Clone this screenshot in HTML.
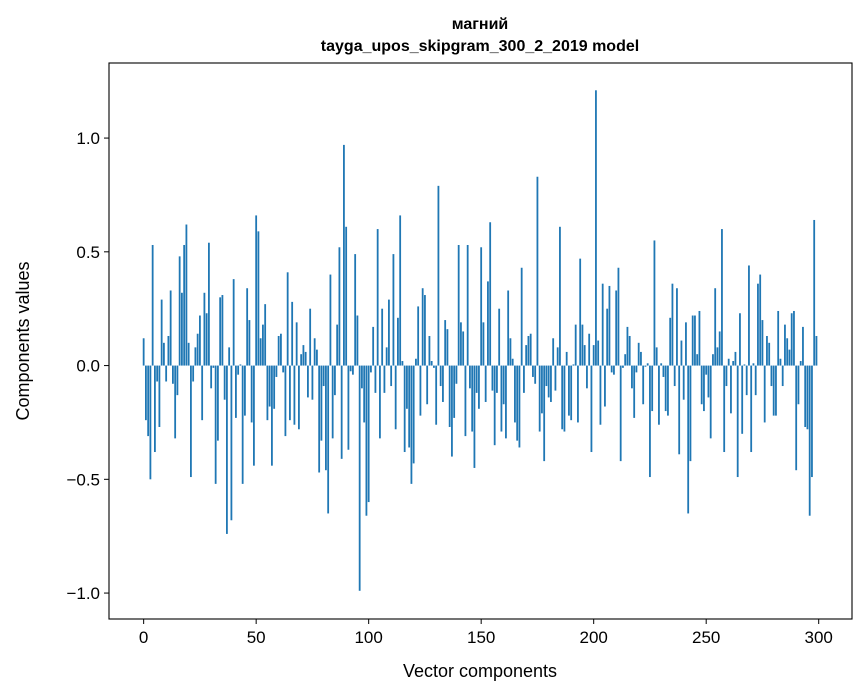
<!DOCTYPE html>
<html><head><meta charset="utf-8"><style>
html,body{margin:0;padding:0;background:#fff;}
svg{display:block;font-family:"Liberation Sans","DejaVu Sans",sans-serif;}
</style></head><body>
<svg id="chart" width="867" height="696" viewBox="0 0 867 696" xmlns="http://www.w3.org/2000/svg">
<rect width="867" height="696" fill="#fff"/>
<text x="480" y="29" text-anchor="middle" font-size="16" font-weight="bold">магний</text>
<text x="480" y="51" text-anchor="middle" font-size="16" font-weight="bold">tayga_upos_skipgram_300_2_2019 model</text>
<g id="bars"></g>
<g id="axes"></g>
<text x="480" y="677" text-anchor="middle" font-size="18">Vector components</text>
<text transform="translate(29,341) rotate(-90)" text-anchor="middle" font-size="18">Components values</text>
</svg>
<script>
const values = [
0.12,-0.24,-0.31,-0.50,0.53,-0.38,-0.07,-0.27,0.29,0.10,
-0.07,0.13,0.33,-0.08,-0.32,-0.13,0.48,0.32,0.53,0.62,
0.10,-0.49,-0.07,0.08,0.14,0.22,-0.24,0.32,0.23,0.54,
-0.10,-0.01,-0.52,-0.33,0.30,0.31,-0.15,-0.74,0.08,-0.68,
0.38,-0.23,-0.04,0.005,-0.52,-0.22,0.34,0.20,-0.25,-0.44,
0.66,0.59,0.12,0.18,0.27,-0.24,-0.18,-0.44,-0.19,-0.05,
0.13,0.14,-0.03,-0.31,0.41,-0.24,0.28,-0.26,0.19,-0.28,
0.05,0.09,0.06,-0.14,0.25,-0.15,0.12,0.07,-0.47,-0.33,
-0.09,-0.46,-0.65,0.40,-0.32,-0.13,0.18,0.52,-0.41,0.97,
0.61,-0.37,-0.025,-0.04,0.49,0.22,-0.99,-0.10,-0.25,-0.66,
-0.60,-0.03,0.17,-0.12,0.60,-0.32,0.25,-0.12,0.08,0.29,
-0.09,0.49,-0.28,0.21,0.66,0.02,-0.38,-0.19,-0.36,-0.52,
-0.43,0.03,0.26,-0.22,0.34,0.31,-0.17,0.13,0.02,-0.01,
-0.26,0.79,-0.09,-0.16,0.20,0.16,-0.27,-0.40,-0.23,-0.08,
0.53,0.19,0.15,-0.31,0.53,-0.10,-0.29,-0.45,-0.12,-0.19,
0.52,0.19,-0.16,0.37,0.63,-0.11,-0.35,-0.12,0.25,-0.29,
-0.17,-0.32,0.33,0.12,0.03,-0.25,-0.33,-0.36,0.43,-0.12,
0.09,0.13,0.14,-0.05,-0.08,0.83,-0.29,-0.21,-0.42,-0.09,
-0.14,-0.16,0.12,-0.11,0.08,0.61,-0.28,-0.29,0.06,-0.22,
-0.24,0.005,0.18,-0.25,0.47,0.18,0.09,-0.10,0.14,-0.38,
0.09,1.21,0.11,-0.26,0.36,-0.18,0.25,0.35,-0.03,-0.04,
0.33,0.43,-0.42,-0.01,0.05,0.17,0.13,-0.10,-0.23,-0.03,
0.10,0.06,-0.17,-0.005,0.01,-0.49,-0.20,0.55,0.08,-0.26,
0.01,-0.05,-0.20,-0.22,0.21,0.36,-0.09,0.34,-0.39,0.11,
-0.15,0.19,-0.65,-0.42,0.22,0.22,0.05,0.24,-0.17,-0.20,
-0.04,-0.14,-0.32,0.05,0.34,0.08,0.15,0.60,-0.38,-0.09,
0.03,-0.21,0.02,0.06,-0.49,0.23,-0.30,0.005,-0.13,0.44,
-0.38,0.01,-0.13,0.36,0.40,0.20,-0.25,0.13,0.10,-0.09,
-0.22,-0.22,0.24,0.03,-0.09,0.18,0.12,0.07,0.23,0.24,
-0.46,-0.17,0.02,0.17,-0.27,-0.28,-0.66,-0.49,0.64,0.13
];
const xTicks = [0,50,100,150,200,250,300];
const yTicks = [-1.0,-0.5,0.0,0.5,1.0];
const yTickLabels = ["\u22121.0","\u22120.5","0.0","0.5","1.0"];

const L=109,R=852,T=63,B=619;
const xMin=-15.4,xMax=314.8,yMin=-1.114,yMax=1.33;
function xs(v){return L+(v-xMin)/(xMax-xMin)*(R-L);}
function ys(v){return B-(v-yMin)/(yMax-yMin)*(B-T);}
const NS="http://www.w3.org/2000/svg";
const barsG=document.getElementById('bars');
values.forEach((v,i)=>{
  const r=document.createElementNS(NS,'rect');
  const x0=xs(i-0.4),x1=xs(i+0.4);
  const y0=ys(Math.max(v,0)),y1=ys(Math.min(v,0));
  r.setAttribute('x',x0);r.setAttribute('width',x1-x0);
  r.setAttribute('y',y0);r.setAttribute('height',Math.max(y1-y0,0.01));
  r.setAttribute('fill','#1f77b4');
  
  
  barsG.appendChild(r);
});
const ax=document.getElementById('axes');
const frame=document.createElementNS(NS,'rect');
frame.setAttribute('x',L);frame.setAttribute('y',T);frame.setAttribute('width',R-L);frame.setAttribute('height',B-T);
frame.setAttribute('fill','none');frame.setAttribute('stroke','#000');frame.setAttribute('stroke-width','1.1');


ax.appendChild(frame);
xTicks.forEach(t=>{
  const x=xs(t);
  const l=document.createElementNS(NS,'line');
  l.setAttribute('x1',x);l.setAttribute('x2',x);l.setAttribute('y1',B);l.setAttribute('y2',B+5);
  l.setAttribute('stroke','#000');
  
  
  ax.appendChild(l);
  const tx=document.createElementNS(NS,'text');
  tx.setAttribute('x',x);tx.setAttribute('y',B+24);tx.setAttribute('text-anchor','middle');tx.setAttribute('font-size','17');
  tx.textContent=t;
  
  
  ax.appendChild(tx);
});
yTicks.forEach((t,i)=>{
  const y=ys(t);
  const l=document.createElementNS(NS,'line');
  l.setAttribute('x1',L-5);l.setAttribute('x2',L);l.setAttribute('y1',y);l.setAttribute('y2',y);
  l.setAttribute('stroke','#000');
  
  
  ax.appendChild(l);
  const tx=document.createElementNS(NS,'text');
  tx.setAttribute('x',L-9);tx.setAttribute('y',y+6);tx.setAttribute('text-anchor','end');tx.setAttribute('font-size','17');
  tx.textContent=yTickLabels[i];
  
  
  ax.appendChild(tx);
});
</script>
</body></html>
